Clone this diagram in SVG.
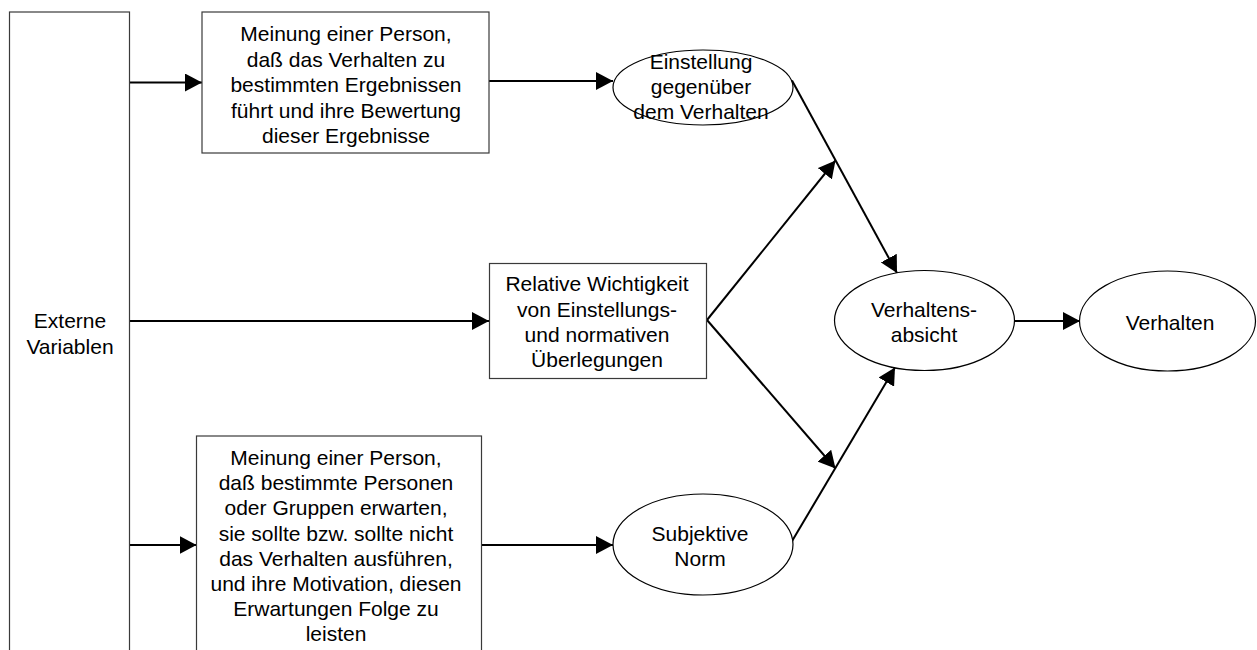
<svg xmlns="http://www.w3.org/2000/svg" width="1257" height="650" viewBox="0 0 1257 650">
  <style>
    .box { fill: #ffffff; stroke: #3a3a3a; stroke-width: 1.2; }
    .oval { fill: #ffffff; stroke: #000000; stroke-width: 1.2; }
    .lbl { font-family: "Liberation Sans", Arial, Helvetica, sans-serif; font-size: 21px; fill: #000000; text-anchor: middle; }
    .conn { fill: none; stroke: #000000; stroke-width: 2; marker-end: url(#arrow); }
  </style>
  <defs>
    <marker id="arrow" markerUnits="userSpaceOnUse" markerWidth="18" markerHeight="18" refX="17" refY="9" orient="auto">
      <path d="M0,0 L17,9 L0,18 Z" fill="#000000"/>
    </marker>
  </defs>
  <rect width="1257" height="650" fill="#ffffff"/>

  <!-- connectors -->
  <g id="connectors">
    <line class="conn" x1="130" y1="82.5" x2="202" y2="82.5"/>
    <line class="conn" x1="489" y1="81" x2="613" y2="81"/>
    <line class="conn" x1="130" y1="321" x2="489" y2="321"/>
    <line class="conn" x1="130" y1="545" x2="196.5" y2="545"/>
    <line class="conn" x1="482" y1="545" x2="613" y2="545"/>
    <line class="conn" x1="792" y1="80.5" x2="897" y2="273"/>
    <line class="conn" x1="707" y1="320" x2="835.5" y2="160.5"/>
    <line class="conn" x1="707" y1="320" x2="835.5" y2="468.5"/>
    <line class="conn" x1="791.5" y1="542" x2="895" y2="367.5"/>
    <line class="conn" x1="1014" y1="321" x2="1080" y2="321"/>
  </g>

  <!-- external variables column -->
  <g id="externe">
    <rect class="box" x="9.5" y="12" width="120" height="660"/>
    <text class="lbl" x="70" y="328">Externe</text>
    <text class="lbl" x="70" y="353.5">Variablen</text>
  </g>

  <!-- beliefs about outcomes -->
  <g id="meinung-ergebnisse">
    <rect class="box" x="202" y="12" width="287" height="141"/>
    <text class="lbl" x="346" y="41">Meinung einer Person,</text>
    <text class="lbl" x="346" y="66.5">daß das Verhalten zu</text>
    <text class="lbl" x="346" y="92">bestimmten Ergebnissen</text>
    <text class="lbl" x="346" y="117.5">führt und ihre Bewertung</text>
    <text class="lbl" x="346" y="143">dieser Ergebnisse</text>
  </g>

  <!-- relative weight -->
  <g id="relative-wichtigkeit">
    <rect class="box" x="489.5" y="263.5" width="217" height="115"/>
    <text class="lbl" x="597" y="291">Relative Wichtigkeit</text>
    <text class="lbl" x="597" y="317">von Einstellungs-</text>
    <text class="lbl" x="597" y="342">und normativen</text>
    <text class="lbl" x="597" y="367">Überlegungen</text>
  </g>

  <!-- normative beliefs -->
  <g id="meinung-personen">
    <rect class="box" x="196.5" y="436" width="285" height="240"/>
    <text class="lbl" x="336" y="465">Meinung einer Person,</text>
    <text class="lbl" x="336" y="490.2">daß bestimmte Personen</text>
    <text class="lbl" x="336" y="515.4">oder Gruppen erwarten,</text>
    <text class="lbl" x="336" y="540.6">sie sollte bzw. sollte nicht</text>
    <text class="lbl" x="336" y="565.8">das Verhalten ausführen,</text>
    <text class="lbl" x="336" y="591">und ihre Motivation, diesen</text>
    <text class="lbl" x="336" y="616.2">Erwartungen Folge zu</text>
    <text class="lbl" x="336" y="641.4">leisten</text>
  </g>

  <!-- attitude -->
  <g id="einstellung">
    <ellipse class="oval" cx="703" cy="87.5" rx="90" ry="37.5"/>
    <text class="lbl" x="701" y="68.5">Einstellung</text>
    <text class="lbl" x="701" y="93.5">gegenüber</text>
    <text class="lbl" x="701" y="118.5">dem Verhalten</text>
  </g>

  <!-- subjective norm -->
  <g id="subjektive-norm">
    <ellipse class="oval" cx="703" cy="544.5" rx="90" ry="50.5"/>
    <text class="lbl" x="700" y="541">Subjektive</text>
    <text class="lbl" x="700" y="566">Norm</text>
  </g>

  <!-- intention -->
  <g id="verhaltensabsicht">
    <ellipse class="oval" cx="924.5" cy="320.5" rx="90" ry="50"/>
    <text class="lbl" x="924" y="317">Verhaltens-</text>
    <text class="lbl" x="924" y="342">absicht</text>
  </g>

  <!-- behaviour -->
  <g id="verhalten">
    <ellipse class="oval" cx="1167.5" cy="321" rx="88" ry="50"/>
    <text class="lbl" x="1170" y="329.5">Verhalten</text>
  </g>
</svg>
